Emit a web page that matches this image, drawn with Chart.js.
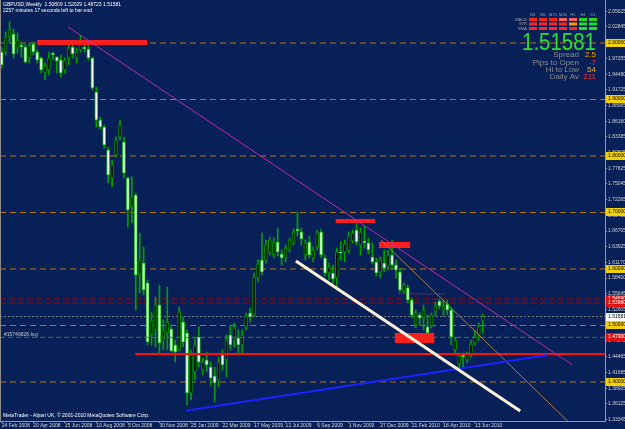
<!DOCTYPE html>
<html>
<head>
<meta charset="utf-8">
<script src="https://cdn.jsdelivr.net/npm/chart.js@4.4.0/dist/chart.umd.min.js"></script>
<style>
  html, body { margin: 0; padding: 0; background: #082058; }
  #wrap { width: 625px; height: 429px; }
</style>
</head>
<body>
<div id="wrap"><canvas id="gbpChart" width="625" height="429"></canvas></div>
<script>
// GBPUSD weekly candles, week of 24 Feb 2008 .. week of 27 Jun 2010 (index = week number)
const candleOpen = [
  1.9841, 1.9841, 2.0106, 2.0159, 1.9911, 1.9964, 1.9929, 1.9734, 1.9982, 1.9841,
  1.9734, 1.9469, 1.9522, 1.9823, 1.9752, 1.9699, 1.9522, 1.9734, 1.9929, 1.9734,
  1.9876, 1.9929, 1.9894, 1.9734, 1.9133, 1.8637, 1.8513, 1.8106, 1.7610, 1.8017,
  1.8336, 1.8248, 1.7610, 1.7097, 1.7309, 1.5894, 1.6106, 1.5752, 1.4831, 1.4920,
  1.5363, 1.4743, 1.4867, 1.4938, 1.4654, 1.4566, 1.5062, 1.4867, 1.3805, 1.4177,
  1.4796, 1.4212, 1.4389, 1.4265, 1.4106, 1.4035, 1.4477, 1.4389, 1.4831, 1.4743,
  1.4778, 1.4654, 1.4974, 1.5221, 1.5186, 1.5841, 1.6159, 1.6159, 1.6301, 1.6247,
  1.6478, 1.6265, 1.6194, 1.6336, 1.6460, 1.6708, 1.6655, 1.6247, 1.6478, 1.6194,
  1.6389, 1.6655, 1.6194, 1.5929, 1.5929, 1.5841, 1.6301, 1.6301, 1.6336, 1.6495,
  1.6690, 1.6424, 1.6495, 1.6460, 1.6212, 1.6124, 1.5947, 1.6106, 1.6053, 1.6247,
  1.6070, 1.5947, 1.5610, 1.5664, 1.5451, 1.5009, 1.5186, 1.5132, 1.4974, 1.4991,
  1.5239, 1.5433, 1.5274, 1.5380, 1.5274, 1.4566, 1.4318, 1.4477, 1.4389, 1.4477,
  1.4690, 1.4831, 1.50809
];
const candleHigh = [
  1.9929, 2.0195, 2.0372, 2.0248, 2.0177, 2.0018, 1.9982, 2.0000, 2.0018, 1.9876,
  1.9752, 1.9646, 1.9841, 1.9841, 1.9760, 1.9787, 1.9734, 1.9964, 2.0018, 1.9911,
  2.0141, 2.0053, 1.9964, 1.9752, 1.9221, 1.8690, 1.8548, 1.8159, 1.7929, 1.8336,
  1.8637, 1.8336, 1.7628, 1.7628, 1.7345, 1.6637, 1.6389, 1.5805, 1.5239, 1.5504,
  1.5717, 1.5097, 1.5681, 1.5009, 1.4743, 1.5327, 1.5150, 1.4920, 1.4566, 1.4778,
  1.4974, 1.4424, 1.4531, 1.4354, 1.4265, 1.4442, 1.4566, 1.4831, 1.5009, 1.5044,
  1.4920, 1.4920, 1.5221, 1.5309, 1.5929, 1.6159, 1.6637, 1.6513, 1.6566, 1.6548,
  1.6725, 1.6336, 1.6424, 1.6548, 1.6708, 1.7009, 1.6725, 1.6513, 1.6584, 1.6389,
  1.6690, 1.6708, 1.6247, 1.6106, 1.6070, 1.6371, 1.6478, 1.6513, 1.6655, 1.6690,
  1.6814, 1.6725, 1.6761, 1.6548, 1.6460, 1.6194, 1.6212, 1.6336, 1.6336, 1.6513,
  1.6159, 1.6017, 1.5752, 1.5717, 1.5487, 1.5274, 1.5221, 1.5363, 1.5186, 1.5221,
  1.5416, 1.5469, 1.5451, 1.5451, 1.5309, 1.4796, 1.4513, 1.4513, 1.4531, 1.4743,
  1.4920, 1.5044, 1.52029
];
const candleLow = [
  1.9557, 1.9787, 2.0000, 1.9734, 1.9823, 1.9752, 1.9646, 1.9646, 1.9787, 1.9646,
  1.9469, 1.9345, 1.9433, 1.9699, 1.9469, 1.9398, 1.9469, 1.9610, 1.9734, 1.9646,
  1.9841, 1.9841, 1.9699, 1.9168, 1.8513, 1.8478, 1.8141, 1.7522, 1.7451, 1.7982,
  1.8283, 1.7610, 1.6743, 1.6814, 1.5274, 1.5575, 1.5540, 1.4654, 1.4654, 1.4619,
  1.4477, 1.4566, 1.4566, 1.4531, 1.4354, 1.4548, 1.4619, 1.3592, 1.3681, 1.4035,
  1.4265, 1.4124, 1.4177, 1.3946, 1.3646, 1.3911, 1.4212, 1.4088, 1.4566, 1.4619,
  1.4477, 1.4513, 1.4920, 1.5062, 1.5150, 1.5770, 1.5894, 1.6106, 1.6247, 1.6194,
  1.6230, 1.6070, 1.6124, 1.6301, 1.6424, 1.6584, 1.6424, 1.6159, 1.6194, 1.6124,
  1.6336, 1.6194, 1.5876, 1.5805, 1.5717, 1.5681, 1.6159, 1.6124, 1.6283, 1.6460,
  1.6424, 1.6247, 1.6371, 1.6265, 1.6088, 1.5876, 1.5841, 1.5947, 1.5982, 1.6017,
  1.5841, 1.5593, 1.5575, 1.5398, 1.5132, 1.4956, 1.5009, 1.4920, 1.4814, 1.4956,
  1.5168, 1.5292, 1.5168, 1.5186, 1.4654, 1.4477, 1.4247, 1.4247, 1.4336, 1.4442,
  1.4654, 1.4743, 1.48723
];
const candleClose = [
  1.9610, 2.0106, 2.0230, 1.9805, 2.0053, 1.9929, 1.9664, 1.9947, 1.9841, 1.9699,
  1.9522, 1.9593, 1.9734, 1.9787, 1.9681, 1.9469, 1.9699, 1.9911, 1.9805, 1.9841,
  2.0053, 1.9894, 1.9734, 1.9203, 1.8637, 1.8513, 1.8194, 1.7663, 1.7840, 1.8283,
  1.8548, 1.7699, 1.7044, 1.7274, 1.5894, 1.6159, 1.5628, 1.4707, 1.5097, 1.5363,
  1.4690, 1.4920, 1.5062, 1.4548, 1.4531, 1.5239, 1.4707, 1.3805, 1.4477, 1.4654,
  1.4354, 1.4354, 1.4301, 1.4070, 1.3982, 1.4354, 1.4301, 1.4743, 1.4654, 1.4956,
  1.4654, 1.4831, 1.5168, 1.5150, 1.5858, 1.6088, 1.5947, 1.6424, 1.6513, 1.6478,
  1.6301, 1.6194, 1.6371, 1.6513, 1.6655, 1.6672, 1.6531, 1.6460, 1.6247, 1.6336,
  1.6637, 1.6247, 1.5929, 1.6035, 1.5823, 1.6301, 1.6283, 1.6442, 1.6584, 1.6637,
  1.6478, 1.6655, 1.6460, 1.6336, 1.6124, 1.5929, 1.6159, 1.6017, 1.6247, 1.6070,
  1.5982, 1.5628, 1.5717, 1.5451, 1.5186, 1.5221, 1.5132, 1.5274, 1.4867, 1.5186,
  1.5345, 1.5345, 1.5345, 1.5274, 1.4796, 1.4743, 1.4460, 1.4442, 1.4495, 1.4672,
  1.4814, 1.4991, 1.51581
];

// time axis labels (every 8 weeks)
const xTickIdx = [0, 8, 16, 24, 32, 40, 48, 56, 64, 72, 80, 88, 96, 104, 112, 120];
const xTickLabels = ['24 Feb 2008', '20 Apr 2008', '15 Jun 2008', '10 Aug 2008', '5 Oct 2008',
  '30 Nov 2008', '25 Jan 2009', '22 Mar 2009', '17 May 2009', '12 Jul 2009', '6 Sep 2009',
  '1 Nov 2009', '27 Dec 2009', '21 Feb 2010', '18 Apr 2010', '13 Jun 2010'];
const xMin = -0.43, xMax = 153;

// price axis
const yMin = 1.3309, yMax = 2.0761;
const yTickValues = [2.05625, 2.02845, 2.00065, 1.97255, 1.94480, 1.91725, 1.88965, 1.86160,
  1.83385, 1.80605, 1.77825, 1.75045, 1.72265, 1.69485, 1.66705, 1.63925, 1.61170, 1.58400,
  1.55645, 1.52805, 1.50025, 1.47245, 1.44465, 1.41685, 1.38905, 1.36125, 1.33345];

// horizontal levels
const roundLevels = [2.0, 1.9, 1.8, 1.7, 1.6, 1.5, 1.4];
const redDashLevels = [1.5469, 1.5398];
const bidPrice = 1.51581;
const orderPrice = 1.4790;
const supportLevel = 1.4495, supportFrom = 33.9;

// trend lines [week, price]
const magentaLine = [[16.86, 2.0283], [144.75, 1.4300]];
const blueLine = [[46.6, 1.3492], [138.6, 1.4478]];
const blueDotLine = [[116.5, 1.4265], [138.6, 1.5481]];
const whiteLine = [[74.6, 1.6141], [131.5, 1.3486]];
const tanLine = [[96.2, 1.6513], [143.5, 1.3309]];
const redDotLine = [[100.8, 1.5557], [112.2, 1.5557]];

// red zones
const zoneFrom = [9.0, 84.7, 95.7, 99.7];
const zoneTo = [36.9, 94.7, 103.6, 109.7];
const zoneHigh = [2.0053, 1.6885, 1.6478, 1.4867];
const zoneLow = [1.9964, 1.6814, 1.6371, 1.4690];

// signal panel
const sigFrames = ['M1', 'M5', 'M15', 'M30', 'H1', 'H4', 'D1'];
const sigRows = ['MACD', 'STR', 'EMA'];
const sigState = [
  [-1, -1, -1, -0.5, -0.5, 1, 1],
  [-1, -1, -1, -1, 0, 1, 1],
  [-1, -1, -1, -1, -1, 1, 1]
];
const statNames = ['Spread', 'Pips to Open', 'Hi to Low', 'Daily Av'];
const statValues = ['2.5', '-7', '54', '211'];
const statColors = ['#ff9a00', '#ff3030', '#ffb000', '#ff3030'];

const FONT = '"Liberation Sans", Arial, sans-serif';

function segment(points, color, width, dash, order) {
  return {
    type: 'line',
    data: points.map(p => ({ x: p[0], y: p[1] })),
    borderColor: color,
    borderWidth: width,
    borderDash: dash,
    pointRadius: 0,
    fill: false,
    tension: 0,
    order: order
  };
}

const datasets = [];
roundLevels.forEach(v => datasets.push(segment([[xMin, v], [xMax, v]], '#b8760c', 1, [6, 4], 30)));
redDashLevels.forEach(v => datasets.push(segment([[xMin, v], [xMax, v]], '#a80000', 1, [6, 3], 30)));
datasets.push(segment([[xMin, bidPrice], [xMax, bidPrice]], '#7a7a7a', 1, [2, 2], 30));

const BODY_INDEX = datasets.length + 1;
datasets.push({
  type: 'bar',
  data: candleLow.map((lo, i) => ({ x: i, y: [lo, candleHigh[i]] })),
  backgroundColor: '#00a000',
  borderWidth: 0,
  barThickness: 1,
  grouped: false,
  order: 20
});
datasets.push({
  type: 'bar',
  data: candleOpen.map((o, i) => ({ x: i, y: [o, candleClose[i]] })),
  backgroundColor: candleOpen.map((o, i) => candleClose[i] >= o ? '#001400' : '#f4fff0'),
  borderColor: candleOpen.map((o, i) => candleClose[i] >= o ? '#008c00' : '#22cc22'),
  borderWidth: 1,
  borderSkipped: false,
  barThickness: 3,
  minBarLength: 1,
  grouped: false,
  order: 19
});

datasets.push(segment([[supportFrom, supportLevel], [xMax, supportLevel]], '#ff1010', 2, [], 6));
datasets.push(segment([[xMin, orderPrice], [xMax, orderPrice]], '#4f7a30', 1, [5, 3], 6));
datasets.push(segment(redDotLine, '#ff2020', 1, [1, 1], 6));
datasets.push(segment(tanLine, '#a88050', 1, [], 5));
datasets.push(segment(blueDotLine, '#1f3adc', 1, [1, 2], 5));
datasets.push(segment(magentaLine, '#c02aa8', 1, [], 4));
datasets.push(segment(blueLine, '#1a22ff', 2, [], 3));
datasets.push(segment(whiteLine, '#fff6dc', 3, [], 2));

const mtOverlay = {
  id: 'mtOverlay',
  beforeDraw(chart) {
    const ctx = chart.ctx;
    ctx.save();
    ctx.fillStyle = '#082058';
    ctx.fillRect(0, 0, chart.width, chart.height);
    ctx.restore();
  },
  afterDatasetDraw(chart, args) {
    if (args.index !== BODY_INDEX) return;
    const ctx = chart.ctx, xs = chart.scales.x, ys = chart.scales.y;
    ctx.save();
    ctx.fillStyle = '#ff1e1e';
    zoneFrom.forEach((f, i) => {
      const x0 = xs.getPixelForValue(f), x1 = xs.getPixelForValue(zoneTo[i]);
      const y0 = ys.getPixelForValue(zoneHigh[i]), y1 = ys.getPixelForValue(zoneLow[i]);
      ctx.fillRect(x0, y0, x1 - x0, y1 - y0);
    });
    ctx.restore();
  },
  afterDraw(chart) {
    const ctx = chart.ctx, ys = chart.scales.y, area = chart.chartArea;
    ctx.save();

    // left frame
    ctx.strokeStyle = '#8a8a8a';
    ctx.lineWidth = 1;
    ctx.beginPath();
    ctx.moveTo(0.5, 0);
    ctx.lineTo(0.5, area.bottom);
    ctx.stroke();

    // price tags on the right axis
    ctx.font = '5px ' + FONT;
    ctx.textBaseline = 'middle';
    ctx.textAlign = 'left';
    const tag = (v, bg, fg) => {
      const y = Math.round(ys.getPixelForValue(v));
      ctx.fillStyle = bg;
      ctx.fillRect(area.right + 1, y - 4, chart.width - area.right - 1, 8);
      ctx.fillStyle = fg;
      ctx.fillText(v.toFixed(5), area.right + 3, y);
    };
    roundLevels.forEach(v => tag(v, '#f5d000', '#000000'));
    redDashLevels.forEach(v => tag(v, '#e01010', '#ffffff'));
    tag(orderPrice, '#e01010', '#ffffff');
    tag(bidPrice, '#ffffff', '#000000');

    // header and footer
    ctx.fillStyle = '#ffffff';
    ctx.fillText('GBPUSD,Weekly  1.50809 1.52029 1.48723 1.51581', 3, 5);
    ctx.fillText('2257 minutes 17 seconds left to bar end', 3, 10.5);
    ctx.fillText('MetaTrader - Alpari UK, \u00a9 2001-2010 MetaQuotes Software Corp.', 3, 416);
    ctx.fillStyle = '#c8c8c8';
    ctx.fillText('#15746826 buy', 4, ys.getPixelForValue(orderPrice) - 3);

    // signal panel
    ctx.font = '4px ' + FONT;
    ctx.fillStyle = '#a0a0a0';
    ctx.textAlign = 'center';
    sigFrames.forEach((f, c) => ctx.fillText(f, 533 + c * 10, 15));
    ctx.textAlign = 'right';
    sigRows.forEach((r, k) => ctx.fillText(r, 527, 19.5 + k * 4.5));
    const sigColor = s => s > 0 ? '#22dd22' : s === 0 ? '#ff9900' : s > -1 ? '#ff6464' : '#ff2424';
    sigState.forEach((row, k) => row.forEach((s, c) => {
      ctx.fillStyle = sigColor(s);
      ctx.fillRect(529 + c * 10, 18 + k * 4.5, 8, 3);
    }));

    // big bid price
    ctx.font = '23px ' + FONT;
    ctx.textAlign = 'left';
    ctx.textBaseline = 'alphabetic';
    const txt = bidPrice.toFixed(5);
    const w = ctx.measureText(txt).width;
    ctx.save();
    ctx.translate(522, 50);
    ctx.scale(74 / w, 1);
    ctx.fillStyle = '#2ee02e';
    ctx.fillText(txt, 0, 0);
    ctx.restore();

    // stats
    ctx.font = '8px ' + FONT;
    ctx.textBaseline = 'middle';
    statNames.forEach((n, k) => {
      const y = 55 + k * 7.4;
      ctx.textAlign = 'right';
      ctx.fillStyle = '#8c8c8c';
      ctx.fillText(n, 579, y);
      ctx.fillStyle = statColors[k];
      ctx.fillText(statValues[k], 596, y);
    });
    ctx.restore();
  }
};

new Chart(document.getElementById('gbpChart'), {
  type: 'bar',
  data: { datasets: datasets },
  options: {
    responsive: false,
    animation: false,
    devicePixelRatio: 1,
    layout: { padding: 0 },
    plugins: { legend: { display: false }, tooltip: { enabled: false } },
    scales: {
      x: {
        type: 'linear',
        min: xMin,
        max: xMax,
        offset: false,
        afterBuildTicks: s => { s.ticks = xTickIdx.map(v => ({ value: v })); },
        afterFit: s => { s.height = 8; s.paddingLeft = 0; s.paddingRight = 0; },
        ticks: {
          color: '#d8d8d8',
          font: { size: 5, family: FONT },
          align: 'start',
          maxRotation: 0,
          minRotation: 0,
          autoSkip: false,
          padding: 0,
          callback: (v, i) => xTickLabels[i]
        },
        grid: { drawOnChartArea: false, offset: false, tickLength: 2, tickColor: '#9a9a9a' },
        border: { display: true, color: '#9a9a9a' }
      },
      y: {
        type: 'linear',
        position: 'right',
        min: yMin,
        max: yMax,
        afterBuildTicks: s => { s.ticks = yTickValues.map(v => ({ value: v })); },
        afterFit: s => { s.width = 20; s.paddingTop = 0; s.paddingBottom = 0; },
        ticks: {
          color: '#d0d0d0',
          font: { size: 5, family: FONT },
          padding: 1,
          autoSkip: false,
          callback: v => v.toFixed(5)
        },
        grid: { drawOnChartArea: false, tickLength: 2, tickColor: '#9a9a9a' },
        border: { display: true, color: '#9a9a9a' }
      }
    }
  },
  plugins: [mtOverlay]
});
</script>
</body>
</html>
